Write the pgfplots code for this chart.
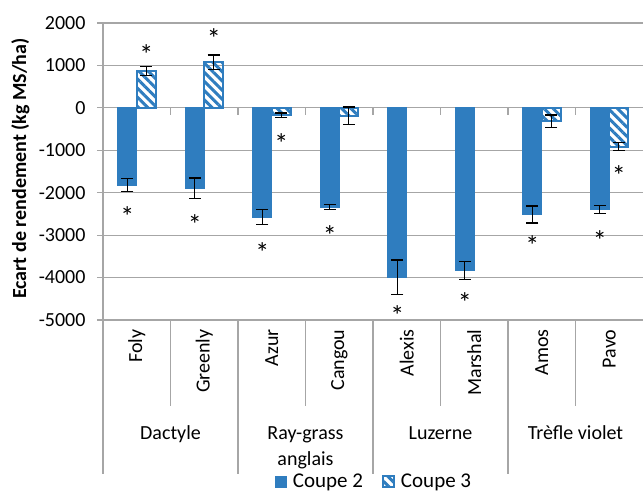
\documentclass[border=0pt]{standalone}
\usepackage{pgfplots}
\pgfplotsset{compat=1.18}
\usepackage{fontspec}
\setmainfont{Carlito}
\usetikzlibrary{patterns.meta}
\definecolor{barblue}{RGB}{47,125,191}
\definecolor{gridgray}{RGB}{166,166,166}
\tikzset{sep/.style={draw=gridgray, line width=1.2bp}}
\pgfplotsset{errstyle/.style={forget plot, draw=none, mark=none,
  error bars/.cd, y dir=both, y explicit,
  error bar style={black, line width=1.2bp},
  error mark options={black, rotate=90, mark size=6bp, line width=1.2bp}}}
\begin{document}
\begin{tikzpicture}[font=\fontsize{20bp}{24bp}\selectfont]
\path[use as bounding box] (0bp,0bp) rectangle (643bp,493bp);
\begin{axis}[
  at={(103bp,173bp)}, anchor=south west,
  scale only axis, width=540bp, height=297bp,
  xmin=-0.5, xmax=7.5, ymin=-5000, ymax=2000,
  clip=false,
  axis y line*=left, axis x line*=bottom,
  x axis line style={draw=none},
  y axis line style={draw=gridgray, line width=1.2bp},
  ytick={-5000,-4000,...,2000},
  scaled y ticks=false,
  /pgf/number format/1000 sep={},
  /pgf/number format/assume math mode=true,
  ymajorgrids, grid style={draw=gridgray, line width=1.2bp},
  tick align=outside, major tick length=6bp,
  ytick style={draw=gridgray, line width=1.2bp},
  xtick={0,...,7}, xtick style={draw=none},
  xticklabels={Foly,Greenly,Azur,Cangou,Alexis,Marshal,Amos,Pavo},
  x tick label style={rotate=90, anchor=east},
  y tick label style={xshift=-8bp},
  ylabel={\textbf{Ecart de rendement (kg MS/ha)}},
  ylabel style={at={(axis description cs:-0.153,0.51)}, anchor=center},
  legend style={at={(0.502,-0.545)}, anchor=center, draw=none, fill=none,
    legend columns=2,
    /tikz/every odd column/.append style={column sep=4bp},
    /tikz/every even column/.append style={column sep=17bp},
    font=\fontsize{21bp}{24bp}\selectfont, inner sep=0pt},
  legend image code/.code={\draw[#1] (0bp,-5.5bp) rectangle (11bp,5.5bp);},
]
\addplot[fill=barblue, draw=barblue, line width=0.8bp,
  ybar, bar width=19bp, bar shift=-9.5bp]
coordinates {
 (0,-1820) (1,-1900) (2,-2573) (3,-2340)
 (4,-3995) (5,-3840) (6,-2515) (7,-2400)
};
\addplot[draw=barblue, line width=2bp,
  pattern={Lines[angle=-45,distance=6.5bp,line width=3bp]}, pattern color=barblue,
  ybar, bar width=19bp, bar shift=9.5bp]
coordinates {
 (0,865) (1,1075) (2,-170) (3,-190) (6,-320) (7,-912)
};
\legend{Coupe 2,Coupe 3}
% error bars (Coupe 2, Coupe 3)
\addplot[errstyle] coordinates {
 (-0.1407,-1820) +- (0,155)
 (0.8593,-1900) +- (0,245)
 (1.8593,-2573) +- (0,181)
 (2.8593,-2340) +- (0,60)
 (3.8593,-3995) +- (0,410)
 (4.8593,-3840) +- (0,213)
 (5.8593,-2515) +- (0,200)
 (6.8593,-2400) +- (0,90)
};
\addplot[errstyle] coordinates {
 (0.1407,865) +- (0,110)
 (1.1407,1075) +- (0,170)
 (2.1407,-170) +- (0,50)
 (3.1407,-190) +- (0,210)
 (6.1407,-320) +- (0,150)
 (7.1407,-912) +- (0,90)
};
% significance stars
\addplot[forget plot, only marks, color=black, mark=text, text mark={*},
  text mark as node=true,
  text mark style={font=\fontsize{28bp}{28bp}\selectfont, anchor=center, inner sep=0pt, yshift=-6bp}]
coordinates {
 (-0.1407,-2411) (0.8593,-2608) (1.8593,-3262) (2.8593,-2868)
 (3.8593,-4745) (4.8593,-4444) (5.8593,-3104) (6.8593,-2986)
 (0.1407,1387) (1.1407,1766) (2.1407,-693) (7.1407,-1466)
};
% category separators and axis ticks
\draw[sep] (axis cs:-0.5,-5000) -- ([yshift=-154bp]axis cs:-0.5,-5000);
\draw[sep] (axis cs:1.5,-5000) -- ([yshift=-154bp]axis cs:1.5,-5000);
\draw[sep] (axis cs:3.5,-5000) -- ([yshift=-154bp]axis cs:3.5,-5000);
\draw[sep] (axis cs:5.5,-5000) -- ([yshift=-154bp]axis cs:5.5,-5000);
\draw[sep] (axis cs:0.5,-5000) -- ([yshift=-86bp]axis cs:0.5,-5000);
\draw[sep] (axis cs:2.5,-5000) -- ([yshift=-86bp]axis cs:2.5,-5000);
\draw[sep] (axis cs:4.5,-5000) -- ([yshift=-86bp]axis cs:4.5,-5000);
\draw[sep] (axis cs:6.5,-5000) -- ([yshift=-86bp]axis cs:6.5,-5000);
\draw[sep] (axis cs:0.5,0) -- ([yshift=-7bp]axis cs:0.5,0);
\draw[sep] (axis cs:1.5,0) -- ([yshift=-7bp]axis cs:1.5,0);
\draw[sep] (axis cs:2.5,0) -- ([yshift=-7bp]axis cs:2.5,0);
\draw[sep] (axis cs:3.5,0) -- ([yshift=-7bp]axis cs:3.5,0);
\draw[sep] (axis cs:4.5,0) -- ([yshift=-7bp]axis cs:4.5,0);
\draw[sep] (axis cs:5.5,0) -- ([yshift=-7bp]axis cs:5.5,0);
\draw[sep] (axis cs:6.5,0) -- ([yshift=-7bp]axis cs:6.5,0);
% group labels
\node[anchor=base, yshift=-119bp] at (axis cs:0.5,-5000) {Dactyle};
\node[anchor=base, yshift=-119bp] at (axis cs:2.5,-5000) {Ray-grass};
\node[anchor=base, yshift=-145bp] at (axis cs:2.5,-5000) {anglais};
\node[anchor=base, yshift=-119bp] at (axis cs:4.5,-5000) {Luzerne};
\node[anchor=base, yshift=-119bp] at (axis cs:6.5,-5000) {Trèfle violet};
\end{axis}
\end{tikzpicture}
\end{document}
